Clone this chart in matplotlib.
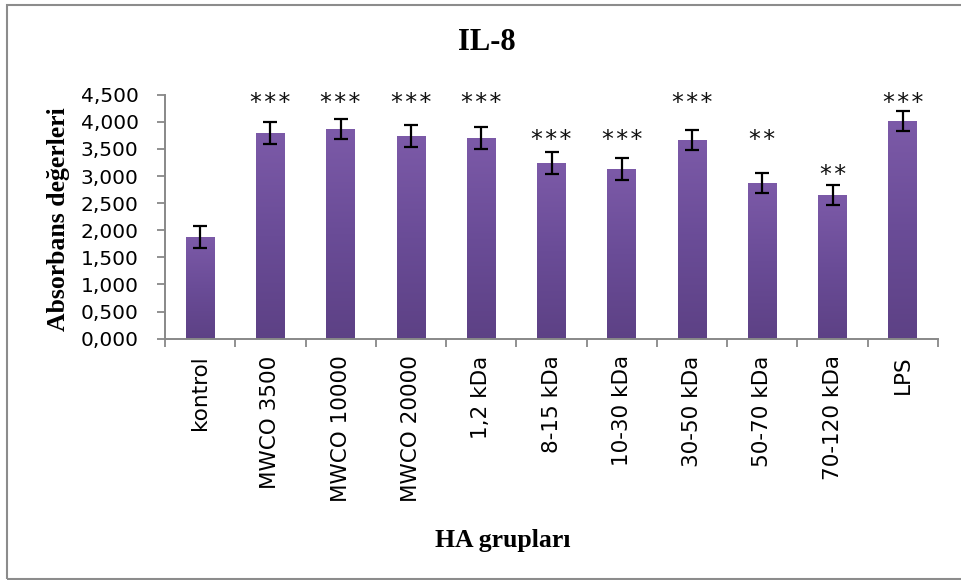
import matplotlib
matplotlib.use("Agg")
import matplotlib.pyplot as plt
import numpy as np
from matplotlib.patches import Rectangle
from matplotlib.colors import LinearSegmentedColormap
from matplotlib.ticker import FixedLocator, FuncFormatter

# ---- data ----
categories = ["kontrol", "MWCO 3500", "MWCO 10000", "MWCO 20000", "1,2 kDa",
              "8-15 kDa", "10-30 kDa", "30-50 kDa", "50-70 kDa", "70-120 kDa", "LPS"]
values = [1.875, 3.793, 3.867, 3.738, 3.701, 3.240, 3.130, 3.664, 2.871, 2.650, 4.014]
errors = [0.195, 0.198, 0.191, 0.197, 0.200, 0.200, 0.197, 0.190, 0.191, 0.190, 0.191]
significance = ["", "***", "***", "***", "***", "***", "***", "***", "**", "**", "***"]
sig_label_y = [None, 4.35, 4.35, 4.35, 4.35, 3.67, 3.67, 4.35, 3.67, 3.01, 4.35]
yticks = [0.0, 0.5, 1.0, 1.5, 2.0, 2.5, 3.0, 3.5, 4.0, 4.5]

title = "IL-8"
ylabel = "Absorbans değerleri"
xlabel = "HA grupları"

W, H = 961, 580
fig = plt.figure(figsize=(W / 100, H / 100), dpi=100)
fig.patch.set_facecolor("white")

ax = fig.add_axes([165 / W, 1 - 338.7 / H, 773 / W, 244 / H])
x = np.arange(len(categories))

cmap = LinearSegmentedColormap.from_list("purp", ["#5d4185", "#6a4c97", "#7c5aa8"])
bars = ax.bar(x, values, width=0.41, color="#6a4c97", zorder=2)
grad = np.linspace(0, 1, 256).reshape(-1, 1)
for b in bars:
    x0, w, h = b.get_x(), b.get_width(), b.get_height()
    im = ax.imshow(grad, cmap=cmap, aspect="auto", origin="lower",
                   extent=(x0, x0 + w, 0, h), zorder=2.1)
    im.set_clip_path(b)

ax.errorbar(x, values, yerr=errors, fmt="none", ecolor="black",
            elinewidth=1.6, capsize=5, capthick=1.6, zorder=3)

for xi, s, sy in zip(x, significance, sig_label_y):
    if s:
        ax.text(xi, sy, "\u200a".join(s), ha="center", va="center", fontsize=17,
                family="DejaVu Sans", color="#111111", zorder=4)

ax.set_xlim(-0.5, len(categories) - 0.5)
ax.set_ylim(0, 4.5)

for sp in ["top", "right"]:
    ax.spines[sp].set_visible(False)
for sp in ["left", "bottom"]:
    ax.spines[sp].set_color("#888888")
    ax.spines[sp].set_linewidth(1.4)

ax.yaxis.set_major_locator(FixedLocator(yticks))
ax.yaxis.set_major_formatter(FuncFormatter(lambda v, p: f"{v:.3f}".replace(".", ",")))
ax.tick_params(axis="y", direction="out", length=6, width=1.3, color="#888888",
               pad=13, labelsize=14.5)

ax.set_xticks(x)
ax.set_xticklabels(categories, rotation=90, fontsize=15.5)
ax.set_xticks(np.arange(-0.5, len(categories), 1.0), minor=True)
ax.tick_params(axis="x", which="major", length=0, pad=12)
ax.tick_params(axis="x", which="minor", direction="out", length=6, width=1.3,
               color="#888888")

fig.text(487 / W, 1 - 43 / H, title, ha="center", va="center", fontsize=22,
         fontweight="bold", family="Liberation Serif")
fig.text(58 / W, 1 - 219 / H, ylabel, ha="center", va="center", rotation=90,
         fontsize=18.5, fontweight="bold", family="Liberation Serif")
fig.text(503 / W, 1 - 540 / H, xlabel, ha="center", va="center", fontsize=18.5,
         fontweight="bold", family="Liberation Serif")

fig.add_artist(Rectangle((7 / W, 1 / H), 1.2, 1 - 5.5 / H, transform=fig.transFigure,
                         fill=False, edgecolor="#8c8c8c", linewidth=1.5))

fig.savefig("out.png", dpi=100, facecolor="white")
